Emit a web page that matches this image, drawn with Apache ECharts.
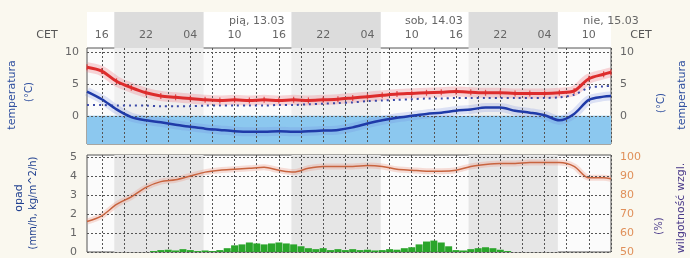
<!DOCTYPE html>
<html>
<head>
<meta charset="utf-8">
<script src="https://cdn.jsdelivr.net/npm/echarts@6/dist/echarts.min.js"></script>
<style>
html, body { margin: 0; padding: 0; background: #faf8ef; }
#chart { width: 690px; height: 258px; }
</style>
</head>
<body>
<div id="chart"></div>
<script>
// x = hours since 12.03 14:00 CET
const hours = [0, 2, 4, 6, 8, 10, 12, 14, 16, 18, 20, 22, 24, 26, 28, 30, 32, 34, 36, 38,
  40, 42, 44, 46, 48, 50, 52, 54, 56, 58, 60, 62, 64, 66, 68, 70, 71];
const temp = [7.6, 7.0, 5.4, 4.4, 3.6, 3.1, 2.9, 2.7, 2.5, 2.4, 2.5, 2.4, 2.5, 2.4, 2.5, 2.4, 2.5, 2.6, 2.8, 3.0,
  3.2, 3.4, 3.5, 3.6, 3.7, 3.8, 3.7, 3.6, 3.6, 3.5, 3.5, 3.5, 3.6, 3.9, 5.8, 6.5, 6.8];
const tempLow = [3.8, 2.6, 1.0, -0.2, -0.7, -1.0, -1.4, -1.7, -2.0, -2.2, -2.4, -2.5, -2.5, -2.4, -2.5, -2.4, -2.3, -2.2, -1.8, -1.2,
  -0.7, -0.3, 0.0, 0.3, 0.5, 0.8, 1.0, 1.3, 1.3, 0.8, 0.5, 0.1, -0.7, 0.3, 2.5, 3.0, 3.1];
const dewPoint = [1.7, 1.7, 1.6, 1.6, 1.6, 1.5, 1.5, 1.5, 1.6, 1.6, 1.6, 1.6, 1.6, 1.7, 1.7, 1.8, 1.9, 2.0, 2.1, 2.3,
  2.4, 2.5, 2.6, 2.7, 2.7, 2.8, 2.8, 2.8, 2.8, 2.8, 2.8, 2.8, 2.9, 3.3, 4.4, 4.6, 4.7];
const humidity = [66, 69, 75, 79, 84, 87, 88, 90, 92, 93, 93.5, 94, 94.5, 93, 92, 94, 95, 95, 95, 95.5,
  95, 93.5, 93, 92.5, 92.5, 93, 95, 96, 96.5, 96.5, 97, 97, 97, 95, 89, 89, 88.5];

// hourly precipitation starting at hour 9
const precipStart = 9;
const precip = [0.05, 0.1, 0.12, 0.08, 0.15, 0.1, 0.05, 0.08, 0.05, 0.1,
  0.2, 0.35, 0.4, 0.5, 0.45, 0.4, 0.45, 0.5, 0.45, 0.4,
  0.3, 0.2, 0.15, 0.2, 0.1, 0.15, 0.1, 0.15, 0.1, 0.12,
  0.08, 0.1, 0.15, 0.12, 0.2, 0.25, 0.4, 0.55, 0.6, 0.5,
  0.3, 0.1, 0.08, 0.15, 0.2, 0.25, 0.2, 0.12, 0.05];

// night (sunset..sunrise)
const nights = [[3.7, 15.8], [27.7, 39.8], [51.7, 63.8]];

const hourTicks = [2, 8, 14, 20, 26, 32, 38, 44, 50, 56, 62, 68];
const hourLabels = ['16', '22', '04', '10', '16', '22', '04', '10', '16', '22', '04', '10'];
const gridHours = [2, 5, 8, 11, 14, 17, 20, 23, 26, 29, 32, 35, 38, 41, 44, 47, 50, 53, 56, 59, 62, 65, 68, 71];
const dayTicks = [23, 47, 71];
const dayLabels = ['pią, 13.03', 'sob, 14.03', 'nie, 15.03'];
const tempTicks = [0, 5, 10];
const precipTicks = [0, 1, 2, 3, 4, 5];
const humTicks = [50, 60, 70, 80, 90, 100];

const pair = (xs, ys) => xs.map((x, i) => [x, ys[i]]);
const precipData = precip.map((v, i) => [precipStart + i, v]);
const nightAreas = nights.map(n => [{ xAxis: n[0] }, { xAxis: n[1] }]);

const FONT = 'DejaVu Sans';
const L = 87, R = 79;
const dotted = { show: true, interval: 0, lineStyle: { type: [2, 2], color: '#555', width: 1 } };
const lbl = { color: '#666', fontSize: 11, fontFamily: FONT, interval: 0, hideOverlap: false };

const chart = echarts.init(document.getElementById('chart'));

const vText = (text, x, y, fill, size) => ({
  type: 'text', x: x, y: y, rotation: Math.PI / 2,
  style: { text: text, fill: fill, font: size + 'px ' + FONT, align: 'center', verticalAlign: 'middle' }
});

chart.setOption({
  backgroundColor: '#faf8ef',
  animation: false,
  textStyle: { fontFamily: FONT },
  grid: [
    { left: L, right: R, top: 12, height: 36, show: true, backgroundColor: '#ffffff', borderWidth: 0 },
    { left: L, right: R, top: 48, height: 96, show: true, backgroundColor: '#fbfbfb', borderColor: '#555', borderWidth: 1 },
    { left: L, right: R, top: 155, height: 97, show: true, backgroundColor: '#fbfbfb', borderColor: '#555', borderWidth: 1 }
  ],
  xAxis: [
    { gridIndex: 0, type: 'value', min: 0, max: 71, show: false },
    {
      gridIndex: 1, type: 'value', min: 0, max: 71, position: 'top', z: 6,
      axisLine: { show: false },
      axisTick: { show: false, interval: 0, customValues: gridHours },
      axisLabel: Object.assign({ customValues: hourTicks, margin: 7, formatter: v => hourLabels[hourTicks.indexOf(v)] }, lbl),
      splitLine: dotted
    },
    {
      gridIndex: 1, type: 'value', min: 0, max: 71, position: 'top', offset: 14, z: 6,
      axisLine: { show: false }, axisTick: { show: false }, splitLine: { show: false },
      axisLabel: Object.assign({ customValues: dayTicks, margin: 7, formatter: v => dayLabels[dayTicks.indexOf(v)] }, lbl)
    },
    {
      gridIndex: 2, type: 'value', min: 0, max: 71, z: 6,
      axisLine: { show: false },
      axisTick: { show: false, interval: 0, customValues: gridHours },
      axisLabel: { show: false },
      splitLine: dotted
    }
  ],
  yAxis: [
    { gridIndex: 0, type: 'value', min: 0, max: 1, show: false },
    {
      gridIndex: 1, type: 'value', min: -4.4, max: 10.6, z: 6,
      axisLine: { show: false },
      axisTick: { show: false, customValues: tempTicks },
      axisLabel: Object.assign({ customValues: tempTicks, margin: 8 }, lbl),
      splitLine: dotted
    },
    {
      gridIndex: 1, type: 'value', min: -4.4, max: 10.6, position: 'right',
      axisLine: { show: false },
      axisTick: { show: false, customValues: tempTicks },
      axisLabel: Object.assign({ customValues: tempTicks, margin: 9 }, lbl),
      splitLine: { show: false }
    },
    {
      gridIndex: 2, type: 'value', min: 0, max: 5.1, z: 6,
      axisLine: { show: false },
      axisTick: { show: false, customValues: precipTicks },
      axisLabel: Object.assign({ customValues: precipTicks, margin: 10 }, lbl),
      splitLine: dotted
    },
    {
      gridIndex: 2, type: 'value', min: 50, max: 101, position: 'right',
      axisLine: { show: false },
      axisTick: { show: false, customValues: humTicks },
      axisLabel: Object.assign({}, lbl, { customValues: humTicks, margin: 9, color: '#e0905a' }),
      splitLine: { show: false }
    }
  ],
  series: [
    // header night bands
    {
      type: 'line', xAxisIndex: 0, yAxisIndex: 0, data: [[0, 0]], symbol: 'none',
      lineStyle: { opacity: 0 }, silent: true, z: 1,
      markArea: { silent: true, itemStyle: { color: '#dcdcdc' }, data: nightAreas }
    },
    // top panel night + frost zone
    {
      type: 'line', xAxisIndex: 1, yAxisIndex: 1, data: [[0, 0]], symbol: 'none',
      lineStyle: { opacity: 0 }, silent: true, z: 1,
      markArea: { silent: true, itemStyle: { color: '#efefef' }, data: nightAreas }
    },
    {
      type: 'line', xAxisIndex: 1, yAxisIndex: 1, data: [[0, 0]], symbol: 'none',
      lineStyle: { opacity: 0 }, silent: true, z: 1,
      markArea: { silent: true, itemStyle: { color: '#8cc8ef' }, data: [[{ yAxis: -4.4 }, { yAxis: 0 }]] }
    },
    {
      type: 'line', xAxisIndex: 1, yAxisIndex: 1, data: pair(hours, tempLow), smooth: 0.3,
      symbol: 'none', lineStyle: { color: 'rgba(110,130,225,0.22)', width: 9 }, silent: true, z: 2
    },
    {
      type: 'line', xAxisIndex: 1, yAxisIndex: 1, data: pair(hours, temp), smooth: 0.3,
      symbol: 'none', lineStyle: { color: 'rgba(240,120,130,0.3)', width: 10 }, silent: true, z: 2
    },
    {
      type: 'line', xAxisIndex: 1, yAxisIndex: 1, data: pair(hours, dewPoint), smooth: 0.3,
      symbol: 'none', lineStyle: { color: '#3b4aa8', width: 2, type: [2, 4] }, z: 7
    },
    {
      type: 'line', xAxisIndex: 1, yAxisIndex: 1, data: pair(hours, tempLow), smooth: 0.3,
      symbol: 'none', lineStyle: { color: '#1f3aa8', width: 2.5 }, z: 7
    },
    {
      type: 'line', xAxisIndex: 1, yAxisIndex: 1, data: pair(hours, temp), smooth: 0.3,
      symbol: 'none', lineStyle: { color: '#dd2c2c', width: 3 }, z: 7
    },
    {
      type: 'scatter', xAxisIndex: 1, yAxisIndex: 1, data: pair(hours, temp),
      symbol: 'rect', symbolSize: [1.2, 6], itemStyle: { color: '#dd2c2c' }, z: 8
    },
    // bottom panel
    {
      type: 'line', xAxisIndex: 3, yAxisIndex: 3, data: [[0, 0]], symbol: 'none',
      lineStyle: { opacity: 0 }, silent: true, z: 1,
      markArea: { silent: true, itemStyle: { color: '#e6e6e6' }, data: nightAreas }
    },
    {
      type: 'bar', xAxisIndex: 3, yAxisIndex: 3, data: precipData, barWidth: 7,
      itemStyle: { color: '#2aa52a' }, z: 7
    },
    {
      type: 'line', xAxisIndex: 3, yAxisIndex: 4, data: pair(hours, humidity), smooth: 0.3,
      symbol: 'none', lineStyle: { color: 'rgba(235,150,130,0.3)', width: 6 }, silent: true, z: 3
    },
    {
      type: 'line', xAxisIndex: 3, yAxisIndex: 4, data: pair(hours, humidity), smooth: 0.3,
      symbol: 'none', lineStyle: { color: '#c8643f', width: 1.5 }, z: 7
    }
  ],
  graphic: [
    { type: 'text', x: 47, y: 35, style: { text: 'CET', fill: '#555', font: '11px ' + FONT, align: 'center', verticalAlign: 'middle' } },
    { type: 'text', x: 641, y: 35, style: { text: 'CET', fill: '#555', font: '11px ' + FONT, align: 'center', verticalAlign: 'middle' } },
    vText('temperatura', 12, 95, '#3050a0', 11),
    vText('(°C)', 29, 92, '#3050a0', 10),
    vText('(°C)', 661, 103, '#3050a0', 10),
    vText('temperatura', 682, 95, '#3050a0', 11),
    vText('opad', 19, 198, '#1f3f8f', 11),
    vText('(mm/h, kg/m^2/h)', 33, 203, '#1f3f8f', 10),
    vText('(%)', 659, 226, '#4a3a8a', 10),
    vText('wilgotność wzgl.', 681, 208, '#4a3a8a', 11)
  ]
});
</script>
</body>
</html>
